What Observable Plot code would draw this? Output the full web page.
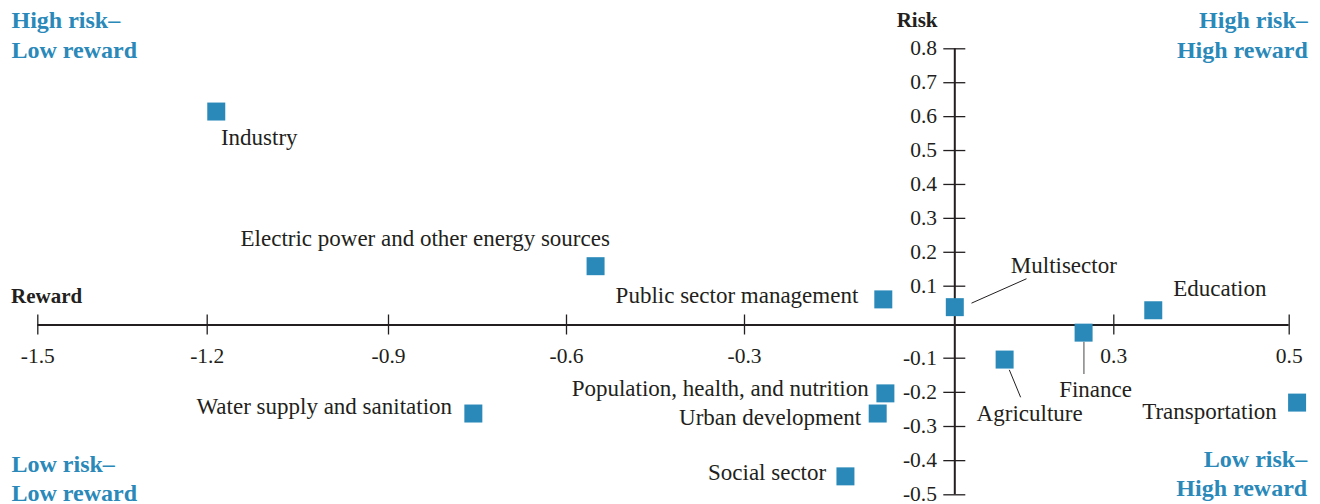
<!DOCTYPE html>
<html>
<head>
<meta charset="utf-8">
<script src="https://cdn.jsdelivr.net/npm/d3@7"></script>
<script src="https://cdn.jsdelivr.net/npm/@observablehq/plot@0.6"></script>
<style>
  html, body { margin: 0; padding: 0; background: #ffffff; }
  #chart svg { display: block; }
</style>
</head>
<body>
<div id="chart"></div>
<script>
// ---- Data ----
const sectors = [
  "Industry",
  "Electric power and other energy sources",
  "Public sector management",
  "Multisector",
  "Education",
  "Finance",
  "Agriculture",
  "Transportation",
  "Population, health, and nutrition",
  "Urban development",
  "Social sector",
  "Water supply and sanitation"
];
const reward = [-1.185, -0.551, -0.102, 0.0, 0.345, 0.243, 0.094, 0.509, -0.099, -0.110, -0.156, -0.757];
const risk   = [0.615, 0.159, 0.066, 0.046, 0.038, -0.023, -0.104, -0.230, -0.203, -0.262, -0.446, -0.262];

const xTicks = [-1.5, -1.2, -0.9, -0.6, -0.3, 0.3, 0.5];
const xTickLabels = ["-1.5", "-1.2", "-0.9", "-0.6", "-0.3", "0.3", "0.5"];
const yTicks = [0.8, 0.7, 0.6, 0.5, 0.4, 0.3, 0.2, 0.1, -0.1, -0.2, -0.3, -0.4, -0.5];
const yTickLabels = ["0.8", "0.7", "0.6", "0.5", "0.4", "0.3", "0.2", "0.1", "-0.1", "-0.2", "-0.3", "-0.4", "-0.5"];

const quadrants = [
  {text: "High risk–\nLow reward", frameAnchor: "top-left"},
  {text: "High risk–\nHigh reward", frameAnchor: "top-right"},
  {text: "Low risk–\nLow reward", frameAnchor: "bottom-left"},
  {text: "Low risk–\nHigh reward", frameAnchor: "bottom-right"}
];

// ---- Layout (scale geometry, follows the hand-drawn axes) ----
const xDomain = [-1.5, -1.2, -0.9, -0.6, -0.3, 0, 0.3, 0.5];
const xRange  = [37.3, 206.7, 388, 566, 744, 954.3, 1113.3, 1288.7];
const yDomain = [-0.5, -0.1, 0, 0.1, 0.8];
const yRange  = [494.3, 357.7, 324.5, 285.7, 48.3];

// label offsets in pixels from each square's centre
const labelLayout = {
  "Industry": {dx: 4.7, dy: 33.5, anchor: "start"},
  "Electric power and other energy sources": {dx: 14.3, dy: -19.7, anchor: "end"},
  "Public sector management": {dx: -25, dy: 3.7, anchor: "end"},
  "Multisector": {dx: 56, dy: -34, anchor: "start"},
  "Education": {dx: 20, dy: -14.4, anchor: "start"},
  "Finance": {dx: 12, dy: 64, anchor: "middle"},
  "Agriculture": {dx: 25, dy: 61.7, anchor: "middle"},
  "Transportation": {dx: -20.3, dy: 16.1, anchor: "end"},
  "Population, health, and nutrition": {dx: -16.7, dy: 3, anchor: "end"},
  "Urban development": {dx: -16.6, dy: 11, anchor: "end"},
  "Social sector": {dx: -19.3, dy: 4, anchor: "end"},
  "Water supply and sanitation": {dx: -21.3, dy: 0.3, anchor: "end"}
};
// leader lines: pixel offsets from the square centre (start, end)
const leaderLayout = [
  {name: "Multisector", from: [16.7, -4], to: [71.7, -28.4], stroke: "#231f20", width: 1},
  {name: "Agriculture", from: [4.7, 10.3], to: [16, 37.7], stroke: "#231f20", width: 1},
  {name: "Finance", from: [0.3, 9], to: [0.3, 41.3], stroke: "#8c8c8c", width: 1.6}
];

const blue = "#2a89b9";
const ink = "#231f20";
const FONT = "'Liberation Serif', 'Times New Roman', serif";

const rows = sectors.map((s, i) => ({sector: s, reward: reward[i], risk: risk[i]}));
const xs = d3.scaleLinear(xDomain, xRange);
const ys = d3.scaleLinear(yDomain, yRange);

const leaders = leaderLayout.map(l => {
  const r = rows.find(d => d.sector === l.name);
  const px = xs(r.reward), py = ys(r.risk);
  return {
    x1: xs.invert(px + l.from[0]), y1: ys.invert(py + l.from[1]),
    x2: xs.invert(px + l.to[0]), y2: ys.invert(py + l.to[1]),
    stroke: l.stroke, width: l.width
  };
});

const xTickRows = xTicks.map((v, i) => ({v, label: xTickLabels[i]}));
const yTickRows = yTicks.map((v, i) => ({v, label: yTickLabels[i]}));

const marks = [
  // axes lines
  Plot.ruleY([0], {x1: xDomain[0], x2: xDomain[xDomain.length - 1], stroke: ink, strokeWidth: 2}),
  Plot.ruleX([0], {y1: yDomain[0], y2: yDomain[yDomain.length - 1], stroke: ink, strokeWidth: 2}),
  // x ticks
  Plot.ruleX(xTickRows, {x: "v", y1: 0, y2: 0, insetTop: -10, insetBottom: -10, stroke: ink, strokeWidth: 1.3}),
  Plot.text(xTickRows, {x: "v", y: () => 0, text: "label", dy: 38, textAnchor: "middle", lineAnchor: "bottom",
    fontSize: 21.5, fill: ink}),
  // y ticks
  Plot.ruleY(yTickRows, {y: "v", x1: 0, x2: 0, insetLeft: -11, insetRight: -11, stroke: ink, strokeWidth: 1.3}),
  Plot.text(yTickRows, {x: () => 0, y: "v", text: "label", dx: -17.8, dy: -0.5, textAnchor: "end", lineAnchor: "middle",
    fontSize: 21.5, fill: ink}),
  // axis titles
  Plot.text(["Risk"], {x: () => 0, y: () => 0.8, text: d => d, dx: -17.3, dy: -21.5, textAnchor: "end",
    lineAnchor: "bottom", fontWeight: "bold", fontSize: 21, fill: ink}),
  Plot.text(["Reward"], {frameAnchor: "top-left", text: d => d, dx: 10.6, dy: 302, textAnchor: "start",
    lineAnchor: "bottom", fontWeight: "bold", fontSize: 21, fill: ink}),
  // leader lines
  ...leaders.map(l => Plot.link([l], {x1: "x1", y1: "y1", x2: "x2", y2: "y2", stroke: l.stroke, strokeWidth: l.width})),
  // squares
  Plot.dot(rows, {x: "reward", y: "risk", symbol: "square", r: 10.15, fill: blue}),
  // labels
  ...rows.map(r => {
    const L = labelLayout[r.sector];
    return Plot.text([r], {x: "reward", y: "risk", text: "sector", dx: L.dx, dy: L.dy, textAnchor: L.anchor,
      lineAnchor: "bottom", fontSize: 23, fill: ink});
  }),
  // quadrant labels
  Plot.text([quadrants[0]], {frameAnchor: "top-left", text: "text", dx: 11, dy: 57.5, textAnchor: "start",
    lineAnchor: "bottom", lineHeight: 1.27, fontWeight: "bold", fontSize: 24, fill: blue}),
  Plot.text([quadrants[1]], {frameAnchor: "top-right", text: "text", dx: -12.7, dy: 57.5, textAnchor: "end",
    lineAnchor: "bottom", lineHeight: 1.27, fontWeight: "bold", fontSize: 24, fill: blue}),
  Plot.text([quadrants[2]], {frameAnchor: "bottom-left", text: "text", dx: 11, dy: -3.5, textAnchor: "start",
    lineAnchor: "bottom", lineHeight: 1.22, fontWeight: "bold", fontSize: 24, fill: blue}),
  Plot.text([quadrants[3]], {frameAnchor: "bottom-right", text: "text", dx: -13.3, dy: -8.5, textAnchor: "end",
    lineAnchor: "bottom", lineHeight: 1.22, fontWeight: "bold", fontSize: 24, fill: blue})
];

const chart = Plot.plot({
  width: 1320,
  height: 504,
  marginTop: 0, marginRight: 0, marginBottom: 0, marginLeft: 0,
  style: {fontFamily: FONT, background: "#ffffff", overflow: "visible"},
  x: {type: "linear", domain: xDomain, range: xRange, axis: null},
  y: {type: "linear", domain: yDomain, range: yRange, axis: null},
  marks
});
document.getElementById("chart").appendChild(chart);
</script>
</body>
</html>
